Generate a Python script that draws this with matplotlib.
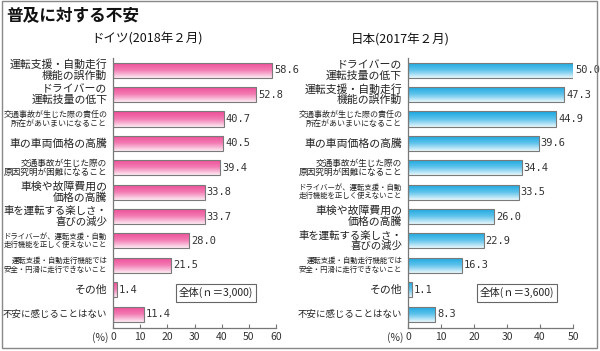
import matplotlib

matplotlib.use("Agg")
import matplotlib.pyplot as plt
import numpy as np
from matplotlib.colors import LinearSegmentedColormap
from matplotlib.patches import Rectangle

plt.rcParams["font.family"] = ["Noto Sans CJK JP", "DejaVu Sans"]

title = "普及に対する不安"

de_title = "ドイツ(2018年２月)"
de_labels = [
    "運転支援・自動走行\n機能の誤作動",
    "ドライバーの\n運転技量の低下",
    "交通事故が生じた際の責任の\n所在があいまいになること",
    "車の車両価格の高騰",
    "交通事故が生じた際の\n原因究明が困難になること",
    "車検や故障費用の\n価格の高騰",
    "車を運転する楽しさ・\n喜びの減少",
    "ドライバーが、運転支援・自動\n走行機能を正しく使えないこと",
    "運転支援・自動走行機能では\n安全・円滑に走行できないこと",
    "その他",
    "不安に感じることはない",
]
de_values = [58.6, 52.8, 40.7, 40.5, 39.4, 33.8, 33.7, 28.0, 21.5, 1.4, 11.4]
de_n = "全体(ｎ＝3,000)"
de_ticks = [0, 10, 20, 30, 40, 50, 60]

jp_title = "日本(2017年２月)"
jp_labels = [
    "ドライバーの\n運転技量の低下",
    "運転支援・自動走行\n機能の誤作動",
    "交通事故が生じた際の責任の\n所在があいまいになること",
    "車の車両価格の高騰",
    "交通事故が生じた際の\n原因究明が困難になること",
    "ドライバーが、運転支援・自動\n走行機能を正しく使えないこと",
    "車検や故障費用の\n価格の高騰",
    "車を運転する楽しさ・\n喜びの減少",
    "運転支援・自動走行機能では\n安全・円滑に走行できないこと",
    "その他",
    "不安に感じることはない",
]
jp_values = [50.0, 47.3, 44.9, 39.6, 34.4, 33.5, 26.0, 22.9, 16.3, 1.1, 8.3]
jp_n = "全体(ｎ＝3,600)"
jp_ticks = [0, 10, 20, 30, 40, 50]

W, H = 600, 351


def draw_panel(ax, labels, values, ticks, colors, n_text, n_x):
    # vertical gradient: saturated at the top, fading out towards the bottom edge
    cmap = LinearSegmentedColormap.from_list("grad", colors)
    grad = np.linspace(0, 1, 64).reshape(-1, 1)
    y = np.arange(len(values))
    h = 0.62
    bars = ax.barh(y, values, height=h, facecolor="none", edgecolor="#7a7a7a", linewidth=0.8, zorder=3)
    for bar in bars:
        x0, y0 = bar.get_x(), bar.get_y()
        w, bh = bar.get_width(), bar.get_height()
        im = ax.imshow(grad, cmap=cmap, aspect="auto", extent=(x0, x0 + w, y0 + bh, y0),
                       zorder=2, interpolation="bilinear")
        im.set_clip_path(bar)
    for yi, v in zip(y, values):
        ax.text(v + ticks[-1] * 0.012, yi, f"{v:.1f}", va="center", ha="left",
                family="DejaVu Sans Mono", fontsize=7.5, color="#333333")
    ax.set_xlim(0, ticks[-1])
    ax.set_ylim(len(values) - 0.43, -0.5)
    ax.set_xticks(ticks)
    ax.set_xticklabels([str(t) for t in ticks], fontsize=7.5, color="#333333")
    ax.set_yticks(y)
    ax.set_yticklabels([])
    ax.tick_params(axis="x", direction="in", length=3, color="#777777", pad=3)
    ax.tick_params(axis="y", length=0)
    for side in ("top", "right"):
        ax.spines[side].set_visible(False)
    for side in ("left", "bottom"):
        ax.spines[side].set_color("#777777")
        ax.spines[side].set_linewidth(0.9)
    for yi, lab in zip(y, labels):
        longest = max(len(s) for s in lab.split("\n"))
        size = min(7.8, 0.72 * 104 / longest)
        ax.text(-0.035, yi, lab, transform=ax.get_yaxis_transform(), ha="right", va="center",
                fontsize=size, color="#222222", linespacing=1.05)
    ax.text(-0.03, -0.036, "(%)", transform=ax.transAxes, ha="right", va="center",
            fontsize=7.5, color="#333333")
    ax.text(n_x, 0.13, n_text, transform=ax.transAxes, ha="center", va="center", fontsize=7.5,
            color="#222222",
            bbox=dict(boxstyle="square,pad=0.3", facecolor="white", edgecolor="#666666", linewidth=0.8))


fig = plt.figure(figsize=(W / 100, H / 100), dpi=100)
bottom = 1 - 328 / H
height = (328 - 58) / H
ax_de = fig.add_axes([113 / W, bottom, 163 / W, height])
ax_jp = fig.add_axes([408 / W, bottom, 165 / W, height])

draw_panel(ax_de, de_labels, de_values, de_ticks, ["#ee4a94", "#f27cb3", "#fdeaf3"], de_n, 0.632)
draw_panel(ax_jp, jp_labels, jp_values, jp_ticks, ["#16a6e0", "#5ec2ea", "#e8f7fc"], jp_n, 0.66)

fig.text(6 / W, 1 - 15 / H, title, ha="left", va="center", fontsize=12, fontweight="bold",
         color="#111111")
fig.text(147 / W, 1 - 39 / H, de_title, ha="center", va="center", fontsize=9, color="#111111")
fig.text(400 / W, 1 - 40 / H, jp_title, ha="center", va="center", fontsize=9, color="#111111")

fig.patches.append(Rectangle((2 / W, 1 - 348 / H), 595 / W, 347 / H, transform=fig.transFigure,
                             fill=False, edgecolor="#888888", linewidth=1.0))

fig.savefig("out.png", dpi=100)
